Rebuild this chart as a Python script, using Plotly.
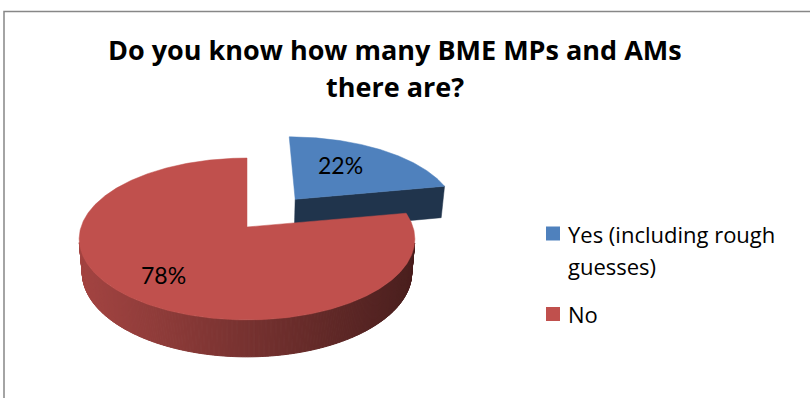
import numpy as np
import plotly.graph_objects as go

# ---------------- data ----------------
categories = ["Yes (including rough guesses)", "No"]
values = [22, 78]
title_lines = ["Do you know how many BME MPs and AMs", "there are?"]

# ---------------- style ----------------
top_colors = [(79, 129, 189), (192, 80, 77)]
explode = [0.48, 0.0]
label_radius = [0.5, 0.72]
label_nudge_y = [-8, 0]
legend_wrap = [["Yes (including rough", "guesses)"], ["No"]]

W, H = 810, 398
CX, CY, R = 247.0, 227.0, 166.0          # pie centre / radius in pixels
SIN_A = 0.477
COS_A = np.sqrt(1 - SIN_A ** 2)
DIST = 5.93                               # camera distance (in radii)
THICK = 0.232                             # pie thickness (in radii)
CAM = np.array([0.0, DIST * SIN_A, -DIST * COS_A])


def proj(X, Y, Z):
    X = np.asarray(X, float); Y = np.asarray(Y, float); Z = np.asarray(Z, float)
    up = Y * COS_A + Z * SIN_A
    depth = Z * COS_A - Y * SIN_A
    f = DIST / (DIST + depth)
    return CX + R * X * f, CY - R * up * f


def rgb(c, k=1.0):
    return "rgb(%d,%d,%d)" % tuple(int(round(v * k)) for v in c)


total = float(sum(values))
fracs = [v / total for v in values]
starts = np.cumsum([0] + fracs[:-1]) * 360.0
ends = starts + np.array(fracs) * 360.0

side_traces, top_traces, labels = [], [], []
for i, (a0, a1) in enumerate(zip(starts, ends)):
    mid = np.radians((a0 + a1) / 2)
    ox, oz = explode[i] * np.sin(mid), explode[i] * np.cos(mid)
    th = np.radians(np.linspace(a0, a1, max(int(a1 - a0) * 2, 8)))
    base = top_colors[i]

    # cut faces (radial walls)
    for ang, sgn in ((a0, -1), (a1, 1)):
        t = np.radians(ang)
        n = np.array([np.sin(t + sgn * np.pi / 2), 0, np.cos(t + sgn * np.pi / 2)])
        p = np.array([ox, 0, oz])
        v = CAM - p
        if n @ v / np.linalg.norm(v) > 0.15:
            Xs = [ox, ox + np.sin(t), ox + np.sin(t), ox]
            Ys = [0, 0, -THICK, -THICK]
            Zs = [oz, oz + np.cos(t), oz + np.cos(t), oz]
            px, py = proj(Xs, Ys, Zs)
            side_traces.append(go.Scatter(x=list(px) + [px[0]], y=list(py) + [py[0]],
                                          fill="toself", mode="lines",
                                          line=dict(color=rgb(base, 0.40), width=0.5),
                                          fillcolor=rgb(base, 0.40), hoverinfo="skip",
                                          showlegend=False))

    # outer wall, split into strips for a horizontal shading gradient
    for k in range(len(th) - 1):
        t0, t1 = th[k], th[k + 1]
        tm = (t0 + t1) / 2
        vis = -1 - DIST * COS_A * np.cos(tm)
        if vis <= 0:
            continue
        Xs = [ox + np.sin(t0), ox + np.sin(t1), ox + np.sin(t1), ox + np.sin(t0)]
        Zs = [oz + np.cos(t0), oz + np.cos(t1), oz + np.cos(t1), oz + np.cos(t0)]
        Ys = [0, 0, -THICK, -THICK]
        px, py = proj(Xs, Ys, Zs)
        xm = px.mean()
        s = (xm - (CX - R)) / (2 * R)
        k_shade = 0.85 + (0.385 - 0.85) * np.clip(s, 0, 1)
        col = rgb(base, k_shade)
        side_traces.append(go.Scatter(x=list(px) + [px[0]], y=list(py) + [py[0]],
                                      fill="toself", mode="lines",
                                      line=dict(color=col, width=1),
                                      fillcolor=col, hoverinfo="skip", showlegend=False))

    # top face
    Xs = np.concatenate([[ox], ox + np.sin(th), [ox]])
    Zs = np.concatenate([[oz], oz + np.cos(th), [oz]])
    px, py = proj(Xs, np.zeros_like(Xs), Zs)
    top_traces.append(go.Scatter(x=px, y=py, fill="toself", mode="lines",
                                 line=dict(color=rgb(base), width=0.5),
                                 fillcolor=rgb(base), hoverinfo="skip",
                                 name=categories[i], showlegend=False))

    # data label
    lr = label_radius[i]
    lx, ly = proj(ox + lr * np.sin(mid), 0, oz + lr * np.cos(mid))
    labels.append(dict(x=float(lx), y=float(ly) + label_nudge_y[i], xref="x", yref="y",
                       text="%d%%" % round(fracs[i] * 100), showarrow=False,
                       font=dict(family="Lato", size=23, color="black"),
                       xanchor="center", yanchor="middle"))

fig = go.Figure(side_traces + top_traces)

annotations = list(labels)
# title
for j, (line, yy) in enumerate(zip(title_lines, [49, 86])):
    annotations.append(dict(x=395, y=yy, xref="x", yref="y", text="<b>%s</b>" % line,
                            showarrow=False, xanchor="center", yanchor="middle",
                            font=dict(family="Open Sans", size=27, color="black")))

# legend
shapes = []
leg_y = [233.5, 314]
for i, cat in enumerate(categories):
    y0 = leg_y[i]
    shapes.append(dict(type="rect", xref="x", yref="y", x0=546, x1=560,
                       y0=y0 - 7, y1=y0 + 7, fillcolor=rgb(top_colors[i]),
                       line=dict(width=0)))
    for j, part in enumerate(legend_wrap[i]):
        annotations.append(dict(x=566, y=y0 + 32 * j, xref="x", yref="y", text=part,
                                showarrow=False, xanchor="left", yanchor="middle",
                                font=dict(family="Open Sans", size=22, color="black")))

# chart-area border (partially visible)
shapes.append(dict(type="path", xref="x", yref="y",
                   path="M 4 %d L 4 11.5 L %d 11.5" % (H + 5, W + 5),
                   line=dict(color="#878787", width=1.5)))

fig.update_layout(
    width=W, height=H, autosize=False,
    margin=dict(l=0, r=0, t=0, b=0),
    paper_bgcolor="white", plot_bgcolor="white",
    xaxis=dict(range=[0, W], visible=False, fixedrange=True),
    yaxis=dict(range=[H, 0], visible=False, fixedrange=True),
    annotations=annotations, shapes=shapes, showlegend=False,
)
fig.write_html("out.html")
